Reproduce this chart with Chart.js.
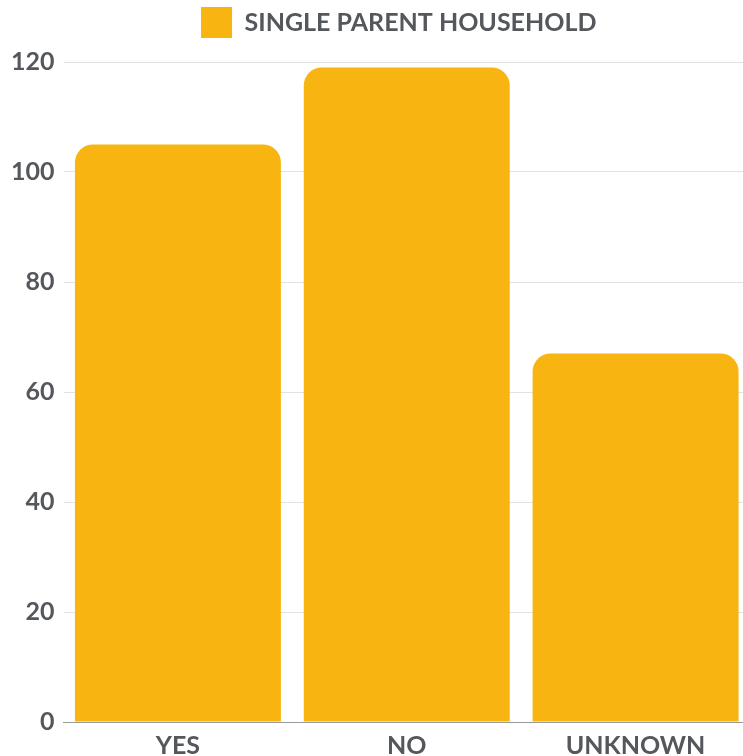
<!DOCTYPE html>
<html>
<head>
<meta charset="utf-8">
<script src="https://cdn.jsdelivr.net/npm/chart.js@4/dist/chart.umd.min.js"></script>
<style>
  html, body { margin: 0; padding: 0; background: #fff; overflow: hidden; }
  #wrap { width: 750px; height: 770px; position: relative; }
</style>
</head>
<body>
<div id="wrap"><canvas id="bar-chart"></canvas></div>
<script>
const categories = ["YES", "NO", "UNKNOWN"];
const seriesLabel = "SINGLE PARENT HOUSEHOLD";
const seriesValues = [105, 119, 67];
const yTicks = [0, 20, 40, 60, 80, 100, 120];

const textColor = "#54575c";

// extra room under the legend, and nudge it a little to the left
const legendSpacing = {
    id: 'legendSpacing',
    beforeInit(chart) {
        const legend = chart.legend;
        const fit = legend.fit;
        legend.fit = function () {
            fit.call(this);
            this.height += 14;
        };
        const draw = legend.draw;
        legend.draw = function () {
            this.left -= 16;
            draw.call(this);
            this.left += 16;
        };
    }
};

new Chart(document.getElementById("bar-chart"), {
    type: 'bar',
    data: {
        labels: categories,
        datasets: [{
            label: seriesLabel,
            data: seriesValues,
            backgroundColor: "#F8B410",
            borderRadius: 18,
            borderSkipped: 'start',
            barPercentage: 0.9,
            categoryPercentage: 1.0
        }]
    },
    options: {
        responsive: true,
        maintainAspectRatio: false,
        animation: false,
        layout: { padding: { top: 0, left: 2, right: 0, bottom: 0 } },
        plugins: {
            tooltip: { enabled: false },
            legend: {
                display: true,
                position: 'top',
                fullSize: false,
                labels: {
                    boxWidth: 31,
                    boxHeight: 31,
                    color: textColor,
                    padding: 7,
                    font: { family: 'Lato', size: 25, weight: 'bold' }
                }
            }
        },
        scales: {
            x: {
                grid: { display: false, drawTicks: false },
                border: { display: true, color: "#999", width: 1 },
                ticks: {
                    color: textColor,
                    padding: 9,
                    font: { family: 'Lato', size: 25, weight: 'bold' }
                }
            },
            y: {
                min: yTicks[0],
                max: yTicks[yTicks.length - 1],
                afterBuildTicks: axis => { axis.ticks = yTicks.map(v => ({ value: v })); },
                grid: { color: "#e2e2e2", drawTicks: false },
                border: { display: false },
                ticks: {
                    color: textColor,
                    padding: 9,
                    font: { family: 'Lato', size: 25, weight: 'bold' }
                }
            }
        }
    },
    plugins: [legendSpacing]
});
</script>
</body>
</html>
